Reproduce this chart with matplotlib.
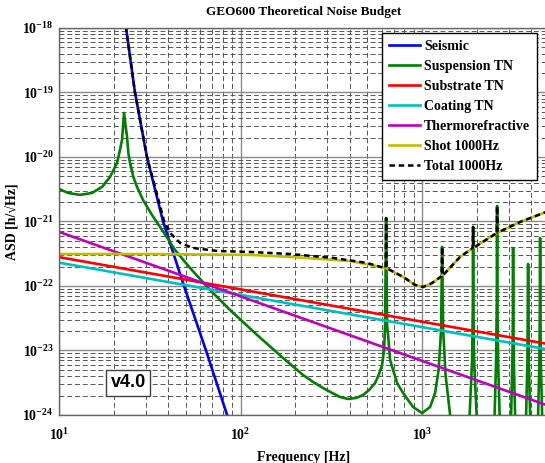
import matplotlib
matplotlib.use("Agg")
import matplotlib.pyplot as plt
from matplotlib.ticker import LogLocator, NullFormatter, FixedLocator, FixedFormatter

# values
seis_f = [20, 23.4, 26.2, 30.5, 37.4, 48.8, 64.5, 84.3, 110]
seis_asd = [1e-17, 1e-18, 1e-19, 1e-20, 1e-21, 1e-22, 1e-23, 1e-24, 1e-25]

susp_f = [10.0, 11.2, 13.05, 15.2, 17.26, 19.1, 20.87, 21.68, 22.24, 22.52, 22.81,
          23.31, 23.7, 24.09, 24.62, 25.67, 26.9, 29.03, 32.53, 36.94, 43.56, 52.7,
          67.9, 87.5, 123.3, 171.5, 221.0, 250.9, 284.8, 311.3, 353.4, 391.1, 432.9,
          473.0, 510.5, 550.8, 579.8, 601.9, 617.4, 625.3, 633.5, 641.6, 649.7,
          666.4, 692.2, 728.3, 785.8, 892.0, 1000, 1107, 1179, 1233, 1273, 1289,
          1306, 1347, 1427,
          1579, 1827, 1886, 1905, 1910, 1915, 1934, 1997,
          2224, 2508, 2557, 2580, 2589, 2599, 2622, 2673,
          2867, 3093, 3144, 3165, 3172, 3180, 3200, 3253,
          3467, 3741, 3804, 3837, 3871, 3936,
          4141, 4356, 4429, 4457, 4468, 4480, 4508, 4583, 5008]
susp_asd = [3.19e-21, 2.77e-21, 2.58e-21, 2.77e-21, 3.43e-21, 4.90e-21, 8.07e-21,
            1.29e-20, 1.84e-20, 2.92e-20, 4.81e-20,
            2.92e-20, 2.04e-20, 1.15e-20, 8.07e-21, 4.90e-21, 3.43e-21, 2.15e-21,
            1.26e-21, 7.38e-22, 3.61e-22, 1.90e-22,
            8.67e-23, 4.25e-23, 1.74e-23, 7.65e-24, 4.17e-24, 3.25e-24, 2.62e-24,
            2.28e-24, 1.90e-24, 1.77e-24, 1.84e-24,
            2.04e-24, 2.44e-24, 3.13e-24, 4.33e-24, 5.96e-24, 1.02e-23, 2.48e-23,
            1.13e-21, 2.48e-23, 1.74e-23,
            7.13e-24, 4.99e-24, 3.13e-24, 2.19e-24, 1.33e-24, 1.07e-24, 1.33e-24,
            2.19e-24, 4.99e-24, 2.08e-23, 4.03e-22,
            2.08e-23, 4.17e-24, 1.0e-24,
            5e-25, 1e-24, 7.13e-24, 6.07e-23, 8.22e-22, 6.07e-23, 7.13e-24, 1e-24,
            5e-25, 1e-24, 7.13e-24, 6.07e-23, 1.74e-21, 6.07e-23, 7.13e-24, 1e-24,
            5e-25, 1e-24, 7.13e-24, 4.25e-23, 3.88e-22, 4.25e-23, 7.13e-24, 1e-24,
            5e-25, 1e-24, 7.13e-24, 2.19e-22, 7.13e-24, 1e-24,
            5e-25, 1e-24, 7.13e-24, 6.07e-23, 5.54e-22, 6.07e-23, 7.13e-24, 1e-24, 5e-25]

subs_f = [10, 5000]
subs_asd = [2.8e-22, 1.25e-23]

coat_f = [10, 5000]
coat_asd = [2.3e-22, 1.03e-23]

thermo_f = [10, 5000]
thermo_asd = [6.9e-22, 1.38e-24]

shot_f = [10, 31.7, 112.7, 187.5, 401, 633, 786, 914, 1013, 1136, 1289, 1619,
          1909, 2589, 3467, 5000]
shot_asd = [3.13e-22, 3.13e-22, 3.03e-22, 2.82e-22, 2.44e-22, 1.90e-22, 1.38e-22,
            1.04e-22, 9.64e-23, 1.11e-22, 1.43e-22, 2.82e-22, 3.88e-22, 6.64e-22,
            9.82e-22, 1.46e-21]

total_f = [20, 23.4, 26.2, 30.5, 37.9, 40.9, 46.4, 54.7, 74.3, 112.7, 187.5, 323.6,
           497.5, 610, 630, 633.5, 637, 786, 914, 1013, 1136, 1280, 1289, 1298,
           1619, 1900, 1910, 1920, 2575, 2589, 2603, 3467, 5008]
total_asd = [1e-17, 1e-18, 1e-19, 1e-20, 1.02e-21, 6.64e-22, 4.65e-22, 3.88e-22,
             3.49e-22, 3.37e-22, 3.13e-22, 2.72e-22, 2.27e-22, 1.92e-22, 1.90e-22,
             1.13e-21, 1.89e-22, 1.38e-22, 1.04e-22, 9.64e-23, 1.11e-22, 1.42e-22,
             4.03e-22, 1.45e-22, 2.82e-22, 3.87e-22, 8.22e-22, 3.9e-22, 6.6e-22,
             1.74e-21, 6.7e-22, 9.82e-22, 1.46e-21]

labels = ["Seismic", "Suspension TN", "Substrate TN", "Coating TN",
          "Thermorefractive", "Shot 1000Hz", "Total 1000Hz"]

xtick_vals = [10, 100, 1000]
xtick_labels = [r"$\mathbf{10^{1}}$", r"$\mathbf{10^{2}}$", r"$\mathbf{10^{3}}$"]
ytick_vals = [1e-24, 1e-23, 1e-22, 1e-21, 1e-20, 1e-19, 1e-18]
ytick_labels = [r"$\mathbf{10^{-24}}$", r"$\mathbf{10^{-23}}$", r"$\mathbf{10^{-22}}$",
                r"$\mathbf{10^{-21}}$", r"$\mathbf{10^{-20}}$", r"$\mathbf{10^{-19}}$",
                r"$\mathbf{10^{-18}}$"]


def main():
    plt.rcParams['font.family'] = ['Liberation Serif', 'DejaVu Serif']
    plt.rcParams['font.weight'] = 'bold'
    plt.rcParams['mathtext.fontset'] = 'custom'
    plt.rcParams['mathtext.bf'] = 'Liberation Serif:bold'
    plt.rcParams['mathtext.rm'] = 'Liberation Serif:bold'

    fig = plt.figure(figsize=(5.45, 4.63), dpi=100)
    ax = fig.add_axes([0.1083, 0.1037, 0.899, 0.836])

    lw = 1.9
    ax.loglog(seis_f, seis_asd, color='#0000ff', lw=lw, label=labels[0])
    ax.loglog(susp_f, susp_asd, color='#008000', lw=lw, label=labels[1])
    ax.loglog(subs_f, subs_asd, color='#ff0000', lw=lw, label=labels[2])
    ax.loglog(coat_f, coat_asd, color='#00bfbf', lw=lw, label=labels[3])
    ax.loglog(thermo_f, thermo_asd, color='#bf00bf', lw=lw, label=labels[4])
    ax.loglog(shot_f, shot_asd, color='#bfbf00', lw=lw, label=labels[5])
    ax.loglog(total_f, total_asd, color='black', lw=1.8, ls=(0, (2.2, 1.5)),
              label=labels[6])

    ax.set_xlim(10, 5000)
    ax.set_ylim(1e-24, 1e-18)

    ax.xaxis.set_major_locator(FixedLocator(xtick_vals))
    ax.xaxis.set_major_formatter(FixedFormatter(xtick_labels))
    ax.yaxis.set_major_locator(FixedLocator(ytick_vals))
    ax.yaxis.set_major_formatter(FixedFormatter(ytick_labels))
    ax.xaxis.set_minor_locator(LogLocator(base=10, subs=range(2, 10), numticks=20))
    ax.yaxis.set_minor_locator(LogLocator(base=10, subs=range(2, 10), numticks=20))
    ax.xaxis.set_minor_formatter(NullFormatter())
    ax.yaxis.set_minor_formatter(NullFormatter())

    ax.grid(True, which='major', color='#8a8a8a', ls='-', lw=1.0)
    ax.grid(True, which='minor', color='#555555', ls=(0, (5, 3)), lw=0.7)
    ax.set_axisbelow(True)
    ax.tick_params(which='both', direction='in', length=0)
    ax.tick_params(axis='x', pad=9, labelsize=10)
    ax.tick_params(axis='y', pad=4, labelsize=10)
    for s in ax.spines.values():
        s.set_color('#666666')
        s.set_linewidth(1.0)

    ax.set_title("GEO600 Theoretical Noise Budget", fontsize=9.5,
                 fontweight='bold', pad=9)
    ax.set_xlabel("Frequency [Hz]", fontsize=10, fontweight='bold', labelpad=5.5)
    ax.set_ylabel("ASD [h/\u221aHz]", fontsize=10, fontweight='bold', labelpad=2)

    leg = ax.legend(loc='upper right', bbox_to_anchor=(0.9755, 0.987),
                    borderaxespad=0, fontsize=10, handlelength=2.2,
                    handletextpad=0.3, labelspacing=0.5, fancybox=False,
                    framealpha=1, edgecolor='black', borderpad=0.5)
    leg.get_frame().set_linewidth(1.0)

    ax.text(0.141, 0.083, "v4.0", transform=ax.transAxes, ha='center', va='center',
            fontsize=13, fontweight='bold', family=['Liberation Sans', 'DejaVu Sans'],
            bbox=dict(boxstyle='square,pad=0.25', facecolor='white',
                      edgecolor='#404040', lw=1))

    fig.savefig("out.png", dpi=100)


if __name__ == "__main__":
    main()
